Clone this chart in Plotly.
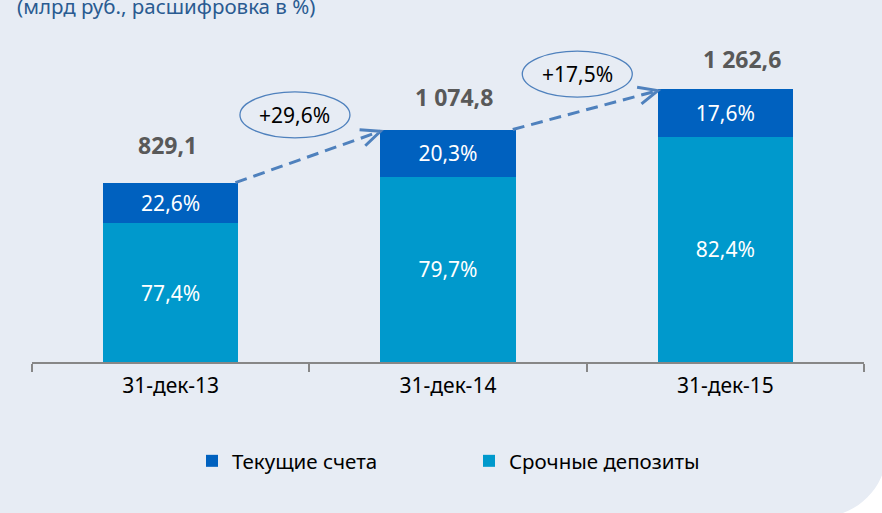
import math
import plotly.graph_objects as go

# ---- data ----
categories = ["31-дек-13", "31-дек-14", "31-дек-15"]
totals = [829.1, 1074.8, 1262.6]
current_pct = [22.6, 20.3, 17.6]   # Текущие счета
term_pct = [77.4, 79.7, 82.4]      # Срочные депозиты
growth_labels = ["+29,6%", "+17,5%"]
series_names = ["Текущие счета", "Срочные депозиты"]
title_text = "(млрд руб., расшифровка в %)"

# ---- style / layout constants ----
W, H = 882, 513
ML, MR, MT, MB = 32, 18, 20, 151
PW, PH = W - ML - MR, H - MT - MB
YMAX = 1581
BARGAP = 0.513
BW = 1 - BARGAP
FONT = "Noto Sans"
C_DARK = "#0061BF"
C_LIGHT = "#0099CC"
C_ARROW = "#4F81BD"
BG = "#E7ECF4"


def ru(v, nd=1):
    s = f"{v:,.{nd}f}"
    return s.replace(",", " ").replace(".", ",")


term_vals = [t * p / 100 for t, p in zip(totals, term_pct)]
curr_vals = [t * p / 100 for t, p in zip(totals, current_pct)]

fig = go.Figure()
fig.add_trace(go.Bar(
    x=categories, y=term_vals, name=series_names[1],
    marker=dict(color=C_LIGHT, line=dict(width=0)),
    text=[ru(p) + "%" for p in term_pct], textposition="inside",
    insidetextanchor="middle", constraintext="none", textangle=0,
    textfont=dict(family=FONT, size=21, color="white"),
    hoverinfo="skip",
))
fig.add_trace(go.Bar(
    x=categories, y=curr_vals, name=series_names[0],
    marker=dict(color=C_DARK, line=dict(width=0)),
    text=[ru(p) + "%" for p in current_pct], textposition="inside",
    insidetextanchor="middle", constraintext="none", textangle=0,
    textfont=dict(family=FONT, size=21, color="white"),
    hoverinfo="skip",
))

# total labels (positions tweaked as in the original)
total_shift = [(-3, 38), (6, 33), (17, 30)]
annotations = []
for i, t in enumerate(totals):
    annotations.append(dict(
        x=i, y=t, xref="x", yref="y", text="<b>" + ru(t) + "</b>",
        showarrow=False, xshift=total_shift[i][0], yshift=total_shift[i][1],
        font=dict(family=FONT, size=23, color="#595959"),
    ))

shapes = []
px_per_x = PW / 3.0
px_per_y = PH / YMAX
ellipse_off = [(-13, 42), (-8, 36)]
for i in range(len(totals) - 1):
    x0 = i + BW / 2 - 0.01
    y0 = totals[i]
    x1 = i + 1 - BW / 2
    y1 = totals[i + 1] - 8
    shapes.append(dict(type="line", xref="x", yref="y", x0=x0, y0=y0, x1=x1, y1=y1,
                       line=dict(color=C_ARROW, width=3, dash="12px,7px")))
    # chevron arrowhead
    dx = (x1 - x0) * px_per_x
    dy = (y1 - y0) * px_per_y
    ang = math.atan2(-dy, -dx)
    pts = []
    for a in (ang - math.radians(24), ang + math.radians(24)):
        pts.append((21 * math.cos(a), 21 * math.sin(a)))
    path = f"M{pts[0][0]:.1f},{pts[0][1]:.1f} L0,0 L{pts[1][0]:.1f},{pts[1][1]:.1f}"
    shapes.append(dict(type="path", xref="x", yref="y", xsizemode="pixel", ysizemode="pixel",
                       xanchor=x1, yanchor=y1, path=path,
                       line=dict(color=C_ARROW, width=3)))
    # ellipse with growth label
    mx = (x0 + x1) / 2 + ellipse_off[i][0] / px_per_x
    my = (y0 + y1) / 2 + ellipse_off[i][1] / px_per_y
    shapes.append(dict(type="circle", xref="x", yref="y", xsizemode="pixel", ysizemode="pixel",
                       xanchor=mx, yanchor=my, x0=-55, x1=55, y0=-23, y1=23,
                       line=dict(color=C_ARROW, width=1.3), fillcolor="rgba(0,0,0,0)"))
    annotations.append(dict(x=mx, y=my, xref="x", yref="y", text=growth_labels[i],
                            showarrow=False, font=dict(family=FONT, size=21, color="black")))

# title (partially cut at the top, as in the original)
annotations.append(dict(x=(15 - ML) / PW, y=(H - MB - 6) / PH, xref="paper", yref="paper",
                        xanchor="left", yanchor="middle", showarrow=False, text=title_text,
                        font=dict(family=FONT, size=20.5, color="#2A5B91")))

# white rounded corner at bottom-right
cx, cy, r = 820, 450, 67
arc = []
for k in range(0, 19):
    th = math.radians(k * 5)
    arc.append((cx + r * math.cos(th), cy + r * math.sin(th)))
arc.append((900, 530))


def to_paper(px, py):
    return (px - ML) / PW, (H - MB - py) / PH


pp = [to_paper(*p) for p in arc]
path = "M" + " L".join(f"{a:.4f},{b:.4f}" for a, b in pp) + " Z"
shapes.append(dict(type="path", xref="paper", yref="paper", path=path,
                   fillcolor="white", line=dict(width=0), layer="below"))

fig.update_layout(
    width=W, height=H,
    margin=dict(l=ML, r=MR, t=MT, b=MB, pad=0),
    paper_bgcolor=BG, plot_bgcolor=BG,
    barmode="stack", bargap=BARGAP,
    font=dict(family=FONT, size=21, color="black"),
    showlegend=True,
    legend=dict(orientation="h", traceorder="reversed", x=(192 - ML) / PW, xanchor="left",
                y=(H - MB - 461) / PH, yanchor="middle", entrywidth=232,
                font=dict(family=FONT, size=20.5, color="black"), bgcolor="rgba(0,0,0,0)",
                itemclick=False, itemdoubleclick=False),
    xaxis=dict(type="category", showgrid=False, zeroline=False, showline=True,
               linecolor="#878787", linewidth=2, ticks="outside", ticklen=8,
               tickcolor="#878787", tickwidth=2, tickson="boundaries", ticklabelstandoff=4,
               tickfont=dict(family=FONT, size=21, color="black"), fixedrange=True),
    yaxis=dict(visible=False, range=[0, YMAX], fixedrange=True),
    annotations=annotations, shapes=shapes,
)

fig.write_html("out.html", config={"displayModeBar": False, "staticPlot": True},
               post_script="document.body.style.margin='0';document.body.style.overflow='hidden';")
